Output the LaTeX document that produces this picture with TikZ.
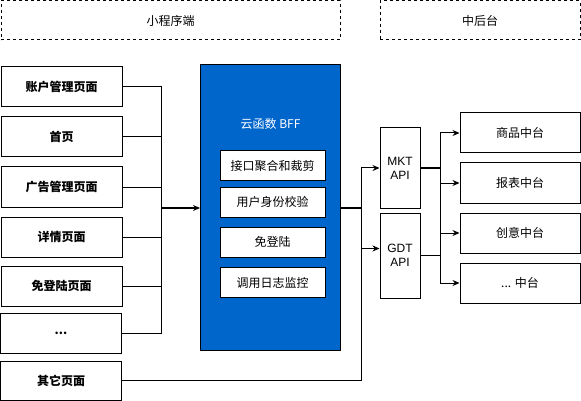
\documentclass[tikz,border=0pt]{standalone}
\usepackage{fontspec}
\setmainfont{Liberation Sans}
\newfontfamily\cjk{Noto Sans CJK SC}
\usepackage{tikz}
\usetikzlibrary{arrows.meta}
\definecolor{bffblue}{HTML}{0066CC}

\begin{document}
\begin{tikzpicture}[x=1pt,y=-1pt,line width=1pt,>={Stealth[length=7pt,width=6pt]},
  group/.style={rectangle,draw=black,dashed,dash pattern=on 3pt off 3pt,minimum height=39pt,font=\cjk\fontsize{12}{14}\selectfont},
  page/.style={rectangle,draw=black,minimum width=121pt,minimum height=40pt,font=\cjk\bfseries\fontsize{12}{14}\selectfont},
  task/.style={rectangle,draw=black,fill=white,minimum width=105pt,minimum height=30pt,font=\cjk\fontsize{12}{14}\selectfont},
  api/.style={rectangle,draw=black,minimum width=40pt,align=center,font=\fontsize{12}{14}\selectfont},
  center/.style={rectangle,draw=black,minimum width=120pt,minimum height=40pt,font=\cjk\fontsize{12}{14}\selectfont}]
\useasboundingbox (0,0) rectangle (581,401);
%Group Boxes
\node at (170.5,20.5) [group,minimum width=339pt] (Mini) {小程序端};
\node at (480,20.5) [group,minimum width=200pt] (Back) {中后台};
%Page Nodes
\node at (61.5,87) [page] (Page1) {账户管理页面};
\node at (61.5,137) [page] (Page2) {首页};
\node at (61.5,187) [page] (Page3) {广告管理页面};
\node at (61.5,237) [page] (Page4) {详情页面};
\node at (61.5,286) [page] (Page5) {免登陆页面};
\node at (61,333) [page] (Page6) {...};
\node at (61,380.5) [page,minimum height=39pt] (Page7) {其它页面};
%BFF
\node at (270.5,207.5) [rectangle,draw=black,fill=bffblue,minimum width=140pt,minimum height=285pt] (Bff) {};
\node at (270.5,124) [white,font=\cjk\fontsize{12}{14}\selectfont] (BffTitle) {云函数 BFF};
\node at (272.5,165.5) [task] (Task1) {接口聚合和裁剪};
\node at (272.5,202) [task] (Task2) {用户身份校验};
\node at (272.5,242) [task] (Task3) {免登陆};
\node at (272.5,282.5) [task] (Task4) {调用日志监控};
%API Nodes
\node at (400,168) [api,minimum height=80pt] (Mkt) {MKT\\API};
\node at (400,255.5) [api,minimum height=85pt] (Gdt) {GDT\\API};
%Center Nodes
\node at (520,133) [center] (Mid1) {商品中台};
\node at (520,183) [center] (Mid2) {报表中台};
\node at (520,233) [center] (Mid3) {创意中台};
\node at (520,283) [center] (Mid4) {... 中台};
%Bus Points
\coordinate (BusL) at (161,208);
\coordinate (BusM) at (361,208);
\coordinate (BusR) at (440,168);
%connections
\draw (Page1.east) -| (BusL);
\draw (Page2.east) -| (BusL);
\draw (Page3.east) -| (BusL);
\draw (Page4.east) -| (BusL);
\draw (Page5.east) -| (BusL);
\draw (Page6.east) -| (BusL);
\draw [->,line width=1.6pt] (BusL) -- (Bff.west |- BusL);
\draw [line width=1.6pt] (Bff.east |- BusM) -- (BusM);
\draw (Page7.east) -| (BusM);
\draw [->] (BusM) |- (Mkt.west);
\draw [->] (BusM) |- ([yshift=7pt]Gdt.west);
\draw [line width=1.6pt] (Mkt.east) -- (BusR);
\draw (Gdt.east) -- (Gdt.east -| BusR);
\draw [->] (BusR) |- (Mid1.west);
\draw [->] (BusR) |- (Mid2.west);
\draw [->] (BusR) |- (Mid3.west);
\draw [->] (BusR) |- (Mid4.west);
\end{tikzpicture}
\end{document}
